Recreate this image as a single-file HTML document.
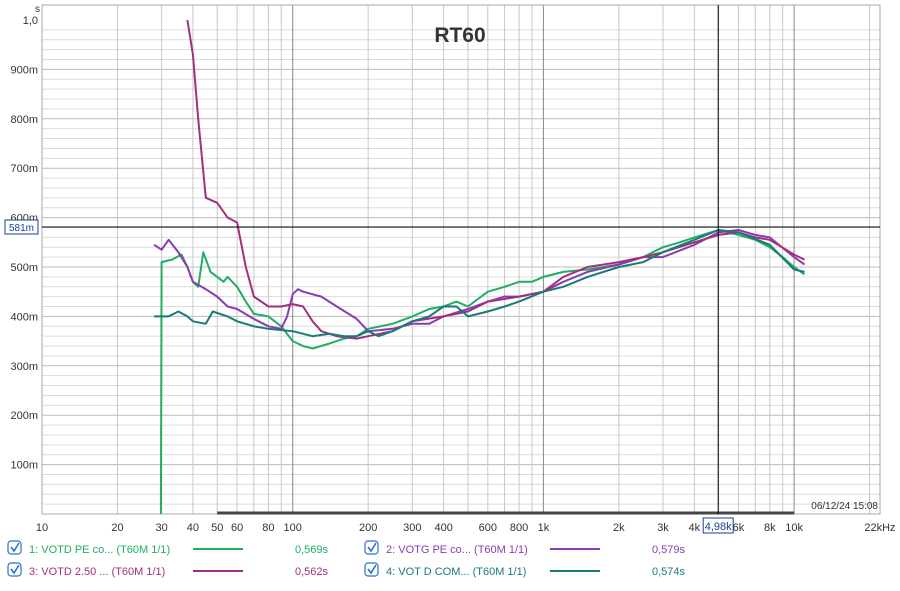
<!DOCTYPE html>
<html><head><meta charset="utf-8">
<style>
body{margin:0;background:#fff;font-family:"Liberation Sans",sans-serif;}
svg text{font-family:"Liberation Sans",sans-serif;}
</style></head>
<body>
<svg id="chart" width="900" height="586" viewBox="0 0 900 586">
<rect x="0" y="0" width="900" height="586" fill="#fff"/>
<g id="grid"></g>
<g id="ticks"></g>
<g id="series"></g>
<text x="460" y="42" font-size="21" font-weight="bold" fill="#333" text-anchor="middle">RT60</text>
<text x="35" y="12" font-size="10" fill="#333">s</text>
<g id="legend"></g>
</svg>
<script>
const yTicks=[0.1,0.2,0.3,0.4,0.5,0.6,0.7,0.8,0.9,1.0];
const yTickLabels=["100m","200m","300m","400m","500m","600m","700m","800m","900m","1,0"];
const xTicks=[10,20,30,40,50,60,80,100,200,300,400,600,800,1000,2000,3000,4000,6000,8000,10000,22000];
const xTickLabels=["10","20","30","40","50","60","80","100","200","300","400","600","800","1k","2k","3k","4k","6k","8k","10k","22kHz"];
const f1=[29.8,30,33,36,38,40,42,44,47,50,53,55,60,65,70,80,90,100,110,120,140,160,180,200,250,300,350,400,450,500,600,700,800,900,1000,1200,1500,2000,2500,3000,3500,4000,5000,6000,7000,8000,9000,10000,11000];
const v1=[0,0.51,0.515,0.525,0.50,0.47,0.46,0.53,0.49,0.48,0.47,0.48,0.46,0.43,0.405,0.40,0.38,0.35,0.34,0.335,0.345,0.355,0.36,0.375,0.385,0.40,0.415,0.42,0.43,0.42,0.45,0.46,0.47,0.47,0.48,0.49,0.495,0.505,0.52,0.54,0.55,0.56,0.575,0.565,0.555,0.54,0.52,0.50,0.485];
const f2=[28,30,32,35,38,40,45,50,55,60,70,80,90,95,100,105,110,130,150,180,200,250,300,350,400,500,600,700,800,1000,1200,1500,2000,2500,3000,4000,5000,6000,7000,8000,10000,11000];
const v2=[0.545,0.535,0.555,0.53,0.50,0.47,0.455,0.44,0.42,0.415,0.395,0.38,0.375,0.40,0.445,0.455,0.45,0.44,0.42,0.395,0.37,0.375,0.385,0.385,0.40,0.415,0.43,0.44,0.44,0.45,0.47,0.49,0.505,0.52,0.52,0.545,0.57,0.575,0.565,0.56,0.52,0.505];
const f3=[38,40,42,45,50,55,60,65,70,80,90,100,110,120,130,150,180,200,250,300,400,500,600,800,1000,1200,1500,2000,2500,3000,4000,5000,6000,7000,8000,10000,11000];
const v3=[1.0,0.93,0.80,0.64,0.63,0.60,0.59,0.50,0.44,0.42,0.42,0.425,0.42,0.39,0.37,0.36,0.355,0.36,0.37,0.39,0.40,0.41,0.43,0.44,0.45,0.48,0.50,0.51,0.52,0.53,0.55,0.565,0.57,0.56,0.555,0.525,0.515];
const f4=[28,30,32,35,38,40,45,48,55,60,70,80,100,120,140,160,180,200,220,250,300,350,400,450,500,600,700,800,1000,1200,1500,2000,2500,3000,4000,5000,6000,8000,10000,11000];
const v4=[0.40,0.40,0.40,0.41,0.40,0.39,0.385,0.41,0.40,0.39,0.38,0.375,0.37,0.36,0.365,0.36,0.36,0.37,0.36,0.37,0.39,0.40,0.42,0.42,0.40,0.41,0.42,0.43,0.45,0.46,0.48,0.50,0.51,0.53,0.555,0.575,0.57,0.545,0.495,0.49];
const seriesNames=["1: VOTD PE co... (T60M 1/1)","2: VOTG PE co... (T60M 1/1)","3: VOTD 2.50 ... (T60M 1/1)","4: VOT D COM... (T60M 1/1)"];
const seriesValues=["0,569s","0,579s","0,562s","0,574s"];
const cursorFreq=4980, cursorVal=0.581;

const NS="http://www.w3.org/2000/svg";
const L=42,R=880,T=20,B=514;
const X=f=>L+250.7*Math.log10(f/10);
const Y=v=>B-v*494;
function mk(tag,attrs,parent){const e=document.createElementNS(NS,tag);for(const k in attrs)e.setAttribute(k,attrs[k]);parent.appendChild(e);return e;}
const grid=document.getElementById('grid'),ticks=document.getElementById('ticks'),ser=document.getElementById('series'),leg=document.getElementById('legend');
for(let i=1;i<50;i++){const v=i*0.02;const maj=i%5===0;
 const ln=mk('line',{x1:L,x2:R,y1:Y(v),y2:Y(v),stroke:maj?'#bbb':'#dcdcdc','stroke-width':1},grid);
 }
for(let d=10;d<=10000;d*=10){for(let m=1;m<10;m++){const f=d*m;if(f>22000)break;const maj=m===1;
 const ln=mk('line',{x1:X(f),x2:X(f),y1:T-15,y2:B,stroke:maj?'#888':'#c8c8c8','stroke-width':1},grid);
 }}
const fr=mk('rect',{x:L,y:5,width:R-L,height:B-5,fill:'none',stroke:'#aaa'},grid);

yTicks.forEach((v,i)=>{const t=mk('text',{x:38,y:Y(v)+4,'font-size':11,fill:'#333','text-anchor':'end'},ticks);t.textContent=yTickLabels[i];
 });
xTicks.forEach((f,i)=>{const t=mk('text',{x:Math.min(X(f),885),y:531,'font-size':11,fill:'#333','text-anchor':'middle'},ticks);t.textContent=xTickLabels[i];
 });
const bar=mk('line',{x1:X(50),x2:X(10000),y1:B-1,y2:B-1,stroke:'#444','stroke-width':3},ticks);

const dt=mk('text',{x:878,y:509,'font-size':10,fill:'#333','text-anchor':'end'},ticks);dt.textContent='06/12/24 15:08';

const colors=['#1fae62','#8a3db0','#a0307f','#1a7a78'];
[[f1,v1],[f2,v2],[f3,v3],[f4,v4]].forEach((s,k)=>{const d=s[0].map((f,i)=>(i?'L':'M')+X(f).toFixed(1)+','+Y(s[1][i]).toFixed(1)).join('');
 const p=mk('path',{d:d,fill:'none',stroke:colors[k],'stroke-width':2,'stroke-linejoin':'round'},ser);
 });
const cx=X(cursorFreq),cy=Y(cursorVal);
const cv=mk('line',{x1:cx,x2:cx,y1:5,y2:B,stroke:'#000'},ser);
const ch=mk('line',{x1:L,x2:R,y1:cy,y2:cy,stroke:'#000'},ser);
const yb=mk('rect',{x:5,y:cy-7,width:33,height:14,fill:'#fff',stroke:'#1a3d9a'},ser);
const yt=mk('text',{x:21.5,y:cy+4,'font-size':10,fill:'#1a3d9a','text-anchor':'middle'},ser);yt.textContent='581m';
const xb=mk('rect',{x:cx-15,y:518,width:30,height:15,fill:'#fff',stroke:'#1a3d9a'},ser);
const xt=mk('text',{x:cx,y:530,'font-size':11,fill:'#1a3d9a','text-anchor':'middle'},ser);xt.textContent='4,98k';
const pos=[[8,553],[365,553],[8,575],[365,575]];
seriesNames.forEach((n,k)=>{const [lx,ly]=pos[k];const g=mk('g',{},leg);
 
 mk('rect',{x:lx,y:ly-12,width:13,height:13,rx:3,fill:'#fff',stroke:'#2a6fc9','stroke-width':1.2},g);
 mk('path',{d:`M${lx+3},${ly-6} l3,4 l5,-8`,fill:'none',stroke:'#2a6fc9','stroke-width':1.6},g);
 const t=mk('text',{x:lx+21,y:ly,'font-size':11,fill:colors[k]},g);t.textContent=n;
 mk('line',{x1:lx+185,x2:lx+235,y1:ly-4,y2:ly-4,stroke:colors[k],'stroke-width':2},g);
 const v=mk('text',{x:lx+287,y:ly,'font-size':11,fill:colors[k]},g);v.textContent=seriesValues[k];});
</script>
</body></html>
